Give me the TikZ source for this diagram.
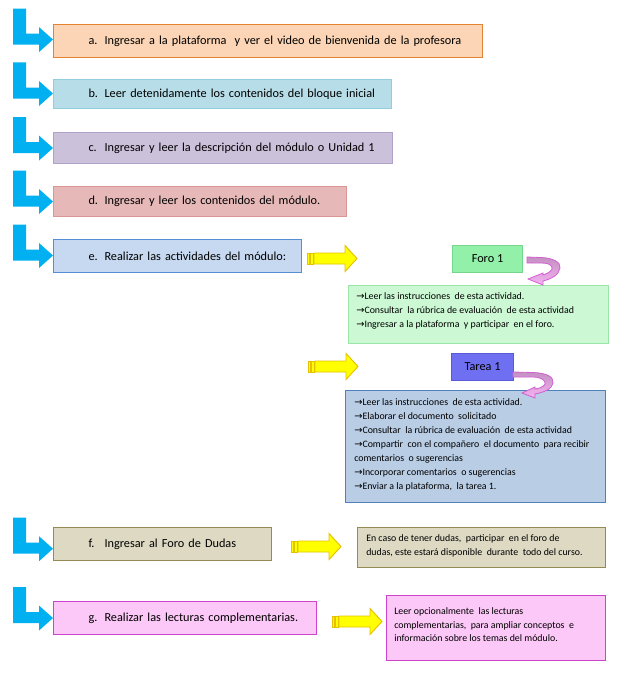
\documentclass[tikz,border=0pt]{standalone}
\usepackage{fontspec}
\setmainfont{Carlito}
\newfontfamily\symf{DejaVu Sans}
\newlength\pxu \setlength\pxu{0.75pt}
\newcommand\arr{{\symf\fontsize{7.4}{6}\selectfont →}}
\newcommand\lab[1]{\hspace*{35\pxu}\makebox[16\pxu][l]{#1}}
\definecolor{aF}{HTML}{FBD5B5}\definecolor{aD}{HTML}{E5822F}
\definecolor{bF}{HTML}{B7DEE8}\definecolor{bD}{HTML}{93CDDD}
\definecolor{cF}{HTML}{CCC1DA}\definecolor{cD}{HTML}{B3A2C7}
\definecolor{dF}{HTML}{E6B9B8}\definecolor{dD}{HTML}{D99694}
\definecolor{eF}{HTML}{C6D9F1}\definecolor{eD}{HTML}{558ED5}
\definecolor{foroF}{HTML}{92F0A8}\definecolor{foroD}{HTML}{74D68C}
\definecolor{grF}{HTML}{CCF8D4}\definecolor{grD}{HTML}{99E6A8}
\definecolor{taF}{HTML}{6F6FF2}\definecolor{taD}{HTML}{5A5AD8}
\definecolor{blF}{HTML}{B9CDE5}\definecolor{blD}{HTML}{4F81BD}
\definecolor{fF}{HTML}{DDD9C3}\definecolor{fD}{HTML}{948A54}
\definecolor{gF}{HTML}{FCC8F7}\definecolor{gD}{HTML}{CC44CC}
\definecolor{bent}{HTML}{00B0F0}
\definecolor{yelF}{HTML}{FFFF00}\definecolor{yelD}{HTML}{E5C100}
\definecolor{cuT}{HTML}{C490C2}\definecolor{cuB}{HTML}{F6B2F2}\definecolor{cuD}{HTML}{D060D0}
\begin{document}
\begin{tikzpicture}[x=0.75pt,y=-0.75pt,
  mainbox/.style={draw, line width=0.8pt, anchor=north west, inner xsep=0pt, inner ysep=0pt,
    align=left, font=\fontsize{9.2}{11}\selectfont},
  plainbox/.style={draw, line width=0.8pt, anchor=north west, inner sep=0pt},
  smalltxt/.style={anchor=north west, inner sep=0pt, align=left},
  bentarr/.pic={\fill[bent] (-40,-31) -- (-27,-31) -- (-27,-6) -- (-14,-6) -- (-14,-12.5) -- (0,0)
      -- (-14,12.5) -- (-14,5) -- (-40,5) -- cycle;},
  yarr/.pic={\begin{scope}[fill=yelF, draw=yelD, line width=0.7pt]
      \filldraw (0,-5.5) rectangle (2.5,5.5);
      \filldraw (3.5,-5.5) rectangle (6,5.5);
      \filldraw (7,-5.5) -- (38,-5.5) -- (38,-13) -- (50,0) -- (38,13) -- (38,5.5) -- (7,5.5) -- cycle;
    \end{scope}}
]
\useasboundingbox (0,0) rectangle (625,674);

% main step boxes
\node[mainbox, fill=aF, draw=aD, text width=429\pxu, minimum height=33\pxu] (a) at (53,24)
  {\lab{a.}Ingresar a la plataforma\ \ y ver el video de bienvenida de la profesora};
\node[mainbox, fill=bF, draw=bD, text width=338\pxu, minimum height=29\pxu] (b) at (53,79)
  {\lab{b.}Leer detenidamente los contenidos del bloque inicial};
\node[mainbox, fill=cF, draw=cD, text width=339\pxu, minimum height=31\pxu] (c) at (53,132)
  {\lab{c.}Ingresar y leer la descripción del módulo o Unidad 1};
\node[mainbox, fill=dF, draw=dD, text width=293\pxu, minimum height=30\pxu] (d) at (53,186)
  {\lab{d.}Ingresar y leer los contenidos del módulo.};
\node[mainbox, fill=eF, draw=eD, text width=248\pxu, minimum height=33\pxu] (e) at (53,239)
  {\lab{e.}Realizar las actividades del módulo:};
\node[mainbox, fill=fF, draw=fD, text width=218\pxu, minimum height=33\pxu] (f) at (53,527)
  {\lab{f.}Ingresar al Foro de Dudas};
\node[mainbox, fill=gF, draw=gD, text width=263\pxu, minimum height=33\pxu] (g) at (53,601)
  {\lab{g.}Realizar las lecturas complementarias.};

% bent arrows
\pic at ([yshift=1.1pt]a.west) {bentarr};
\pic at ([yshift=0.4pt]b.west) {bentarr};
\pic at (c.west) {bentarr};
\pic at (d.west) {bentarr};
\pic at ([yshift=0.4pt]e.west) {bentarr};
\pic at ([yshift=-3.5pt]f.west) {bentarr};
\pic at (g.west) {bentarr};

% yellow arrows
\pic at (307,258.5) {yarr};
\pic at (308,366.5) {yarr};
\pic at (291,546.5) {yarr};
\pic at (332,621.5) {yarr};

% Foro 1
\node[plainbox, fill=foroF, draw=foroD, minimum width=70\pxu, minimum height=27\pxu,
  font=\fontsize{9.2}{11}\selectfont] (foro) at (452,245) {Foro 1};
\node[plainbox, fill=grF, draw=grD, minimum width=260\pxu, minimum height=58\pxu] (foroBox) at (348,285) {};
\node[smalltxt, font=\fontsize{7.4}{10.5}\selectfont] (foroTxt) at (356,292.5)
  {\arr Leer las instrucciones\ \ de esta actividad.\\
   \arr Consultar\ \ la rúbrica de evaluación\ \ de esta actividad\\
   \arr Ingresar a la plataforma\ \ y participar\ \ en el foro.};
\shade[top color=cuT, bottom color=cuB, draw=cuD, line width=0.6pt, shift={(527,257)}]
  (0,0) -- (14,0.5) .. controls (26,1) and (34,5) .. (33,11) .. controls (32,18) and (24,22) .. (16,24)
  -- (16,28) -- (1,22) -- (16,16) -- (16,18) .. controls (22,16) and (26,13) .. (25,10.5)
  .. controls (24,7) and (20,6) .. (14,6) -- (0,6) -- cycle;

% Tarea 1
\node[plainbox, fill=taF, draw=taD, minimum width=62\pxu, minimum height=27\pxu,
  font=\fontsize{9.2}{11}\selectfont] (tarea) at (451,353) {Tarea 1};
\node[plainbox, fill=blF, draw=blD, minimum width=260\pxu, minimum height=112\pxu] (tareaBox) at (345,390) {};
\node[smalltxt, font=\fontsize{7.4}{10.5}\selectfont] (tareaTxt) at (354,398.5)
  {\arr Leer las instrucciones\ \ de esta actividad.\\
   \arr Elaborar el documento\ \ solicitado\\
   \arr Consultar\ \ la rúbrica de evaluación\ \ de esta actividad\\
   \arr Compartir\ \ con el compañero\ \ el documento\ \ para recibir\\
   comentarios\ \ o sugerencias\\
   \arr Incorporar comentarios\ \ o sugerencias\\
   \arr Enviar a la plataforma,\ \ la tarea 1.};
\shade[top color=cuT, bottom color=cuB, draw=cuD, line width=0.6pt, shift={(513,372)}]
  (0,0) -- (20,0.5) .. controls (34,1) and (41,5) .. (40,11) .. controls (39,17) and (32,20) .. (22,22)
  -- (22,26) -- (9,21) -- (22,15) -- (22,17) .. controls (29,16) and (33,13) .. (32,10.5)
  .. controls (31,7) and (26,5) .. (20,5) -- (0,5) -- cycle;

% Dudas
\node[plainbox, fill=fF, draw=fD, minimum width=248\pxu, minimum height=40\pxu] (dudasBox) at (357,527) {};
\node[smalltxt, font=\fontsize{7.4}{10.1}\selectfont] (dudasTxt) at (366,534.5)
  {En caso de tener dudas,\ \ participar\ \ en el foro de\\
   dudas, este estará disponible\ \ durante\ \ todo del curso.};

% Lecturas
\node[plainbox, fill=gF, draw=gD, minimum width=219\pxu, minimum height=65\pxu] (lectBox) at (386,595) {};
\node[smalltxt, font=\fontsize{7.4}{10.1}\selectfont] (lectTxt) at (394,607.5)
  {Leer opcionalmente\ \ las lecturas\\
   complementarias,\ \ para ampliar conceptos\ \ e\\
   información sobre los temas del módulo.};
\end{tikzpicture}
\end{document}
